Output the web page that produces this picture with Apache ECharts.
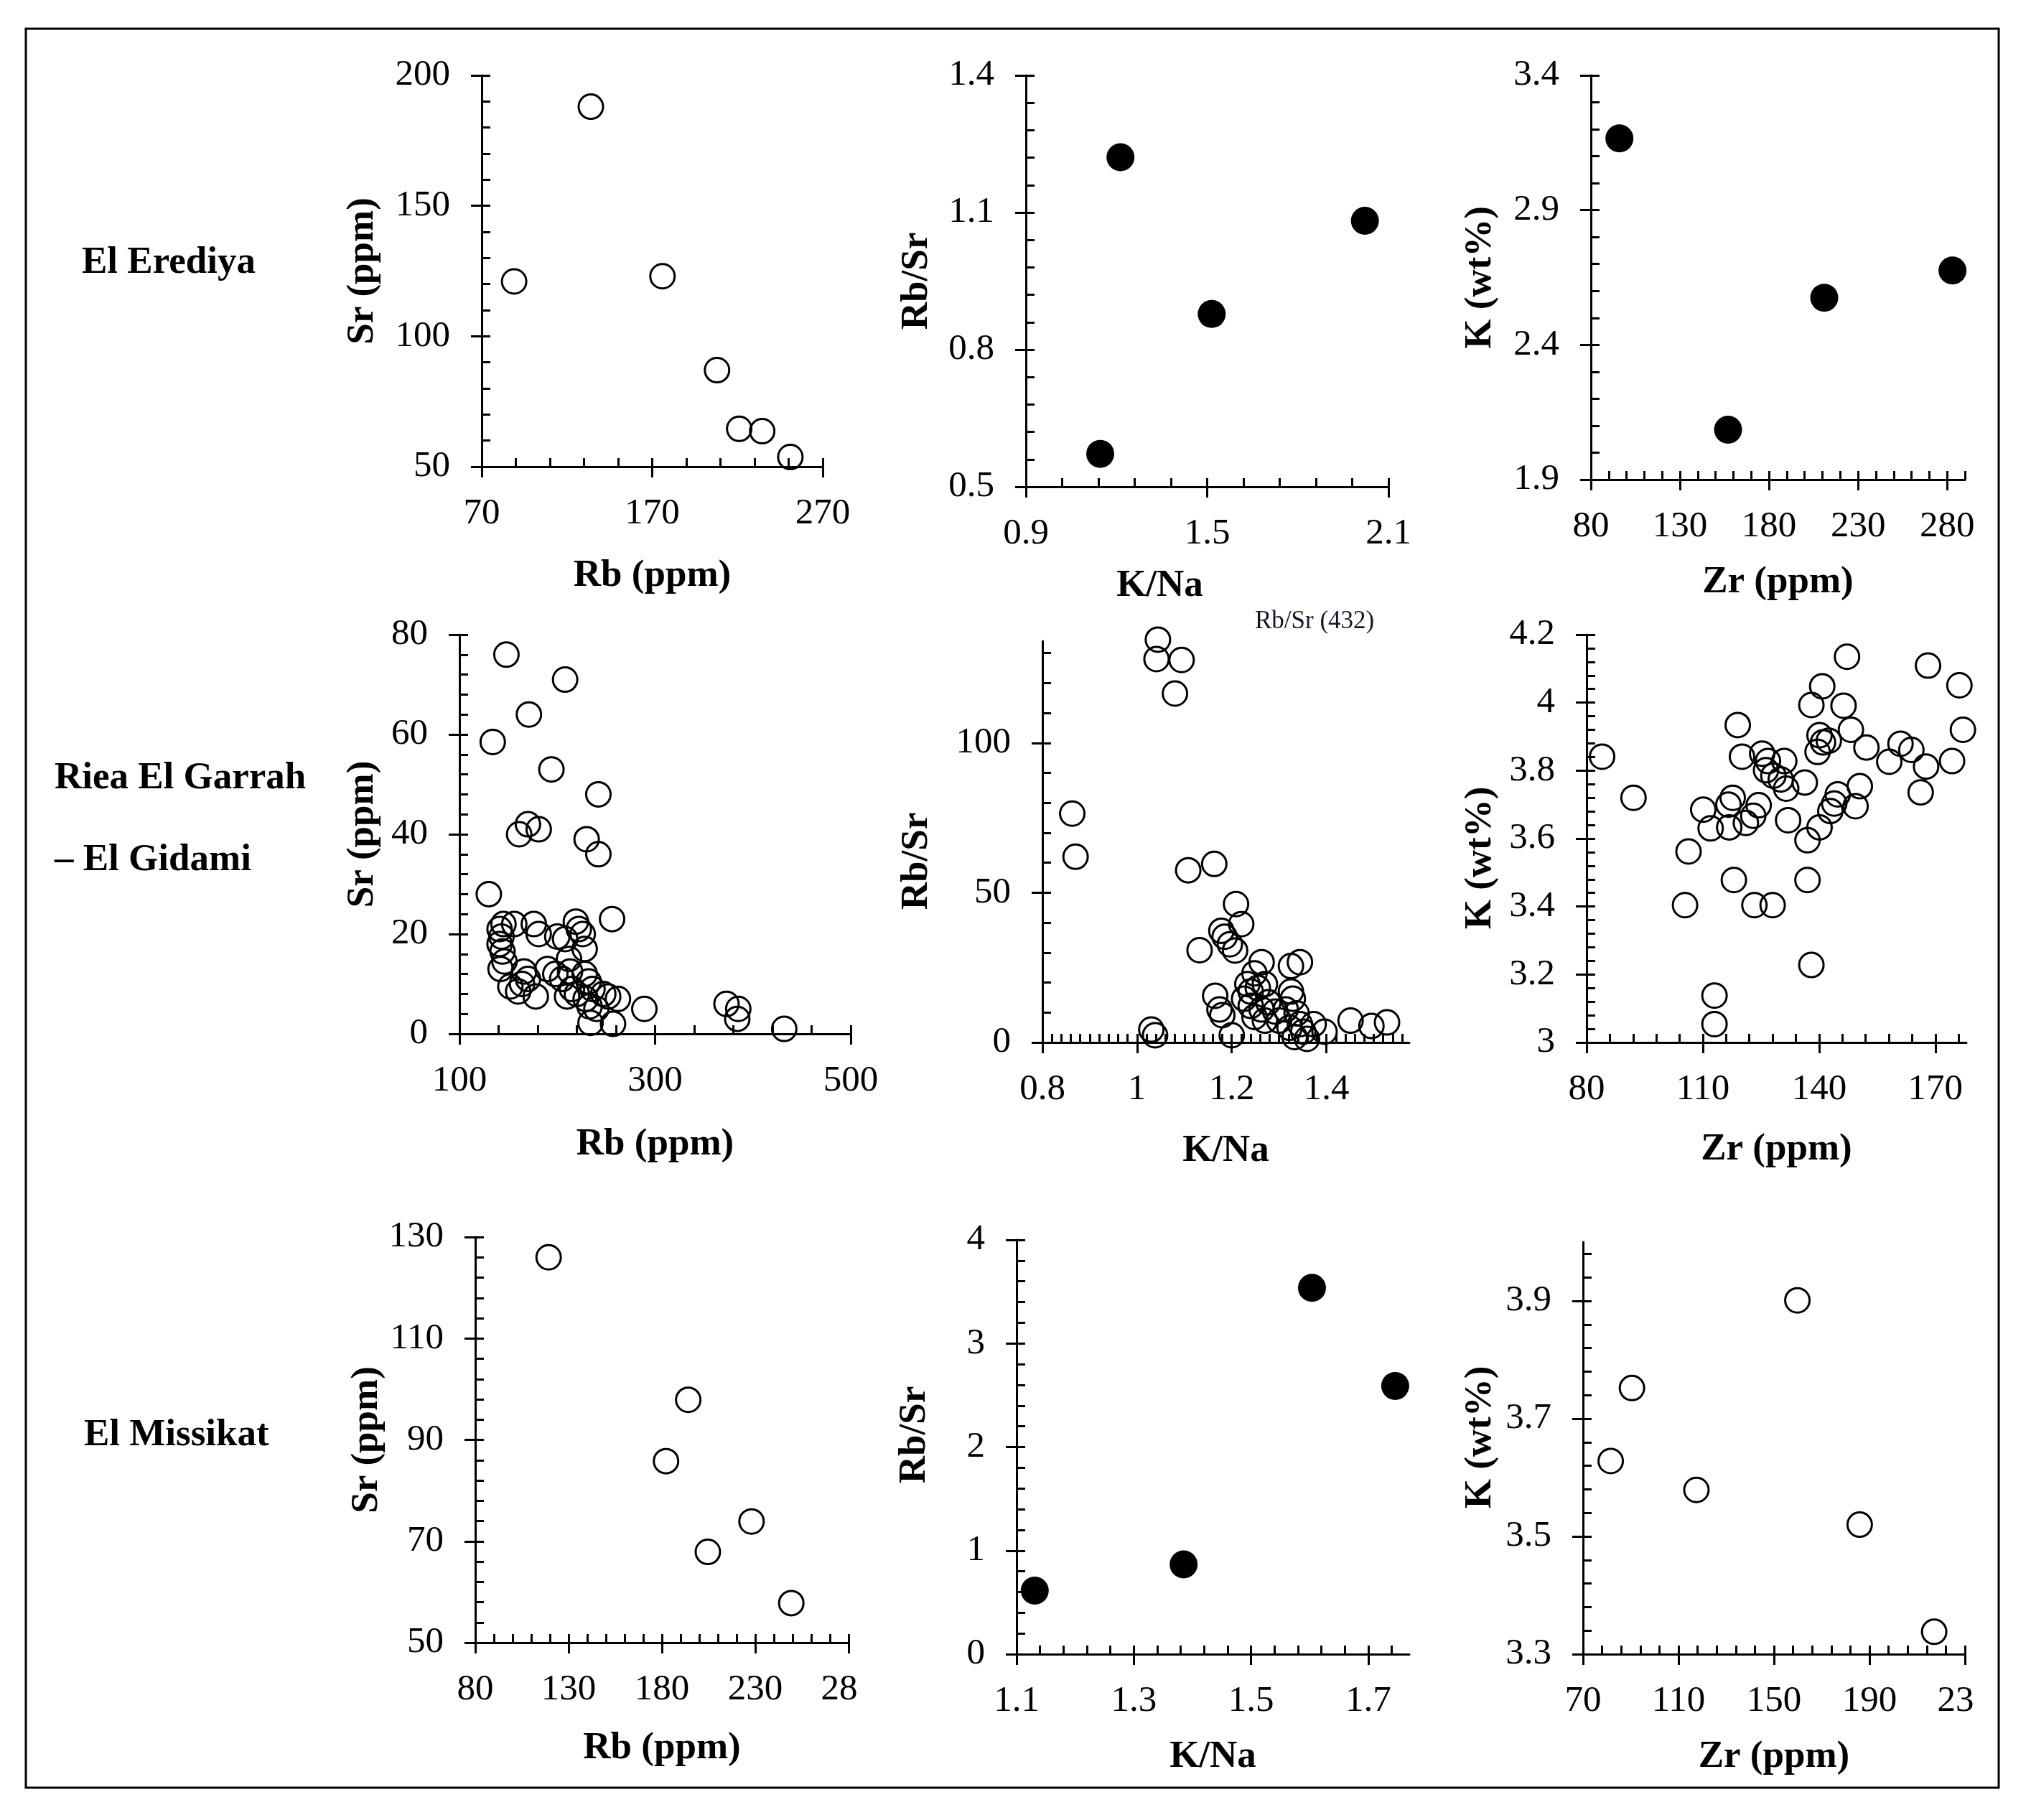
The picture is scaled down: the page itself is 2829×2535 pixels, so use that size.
<!DOCTYPE html>
<html><head><meta charset="utf-8">
<script src="https://cdn.jsdelivr.net/npm/echarts@6/dist/echarts.min.js"></script>
<style>html,body{margin:0;padding:0;background:#fff}#c{width:2829px;height:2535px}</style>
</head><body><div id="c"></div><script>
// ---------------- DATA ----------------
// El Erediya
const erediyaRb   = [134, 89, 176, 208, 221, 234.5, 251];
const erediyaSr   = [188, 121, 123, 87, 64.5, 63.6, 53.7];
const erediyaKNa  = [1.146, 1.213, 1.515, 2.022];
const erediyaRbSr = [0.572, 1.221, 0.878, 1.082];
const erediyaZr   = [96, 157, 211, 283];
const erediyaK    = [3.166, 2.085, 2.575, 2.676];
// Riea El Garrah - El Gidami
const garrahRb = [148,208,171,134,194,242,161,170,181,230,242,130,256,
  145,141,143,141,144,146,142,156,176,181,152,160,166,170,178,164,200,208,190,198,205,
  219,222,226,228,212,213,215,210,220,228,232,236,229,233,234,240,247,252,262,257,289,373,385,384,432];
const garrahSr = [76,71,64,58.5,53,48,40,42,41,39,36,28,23,
  22,21,19.5,18,16.5,14.5,13,22,22,20,9.5,8.5,12.5,11,7.5,10,19.5,19,13,12,11,
  22.5,21,20,17,15,12.5,9,7.5,8,12,10.5,9,7,5.5,2.2,5,8,7.5,7,2,5,6,5,3,1];
const garrahKNa = [1.044,1.041,1.094,1.080,0.863,0.870,1.108,1.163,1.132,1.209,1.220,1.178,1.185,1.196,1.207,
  1.165,1.174,1.180,1.200,1.030,1.038,
  1.263,1.248,1.233,1.240,1.255,1.270,1.226,1.240,1.263,1.277,1.248,1.270,1.292,1.300,
  1.325,1.344,1.325,1.329,1.314,1.337,1.322,1.344,1.351,1.359,1.333,1.373,1.396,1.451,1.495,1.528];
const garrahRbSr = [134.5,128,127.7,116.5,76.4,62,57.5,59.6,30.8,46.2,39.5,37.3,35.3,32.8,30.7,
  15.6,11,9.1,2.4,4.3,2.4,
  26.8,23.1,19.5,17,18.2,19.5,14.6,12.2,11,13.4,8.5,7.3,10.3,7.3,
  25.5,26.8,17,14.6,11,9.7,4.9,6.1,3.6,1.2,1.8,6.1,3.6,7.3,5.5,6.7];
const garrahZr = [84,92.1,110.1,112,106.3,105.4,113,113,119,120.1,117.7,116.6,116.8,121.1,118,123.3,128,
  123,124.4,125.3,126.8,126.3,128.2,131,130.1,131.5,132,136.3,138,140.8,146.3,140.1,141,142.5,139.6,
  148.2,147.2,152.2,137,140.1,142.9,144.8,143.9,149.4,150.5,137,138,158.1,161,163.8,166.2,167.6,168.1,
  174.3,176.2,177.1];
const garrahK = [3.841,3.72,3.685,3.63,3.562,3.404,3.138,3.054,3.934,3.841,3.72,3.7,3.633,3.646,3.478,3.404,3.404,
  3.667,3.698,3.85,3.828,3.801,3.785,3.828,3.774,3.747,3.654,3.765,3.993,4.048,3.991,3.904,3.883,3.888,3.855,
  3.92,4.135,3.868,3.595,3.633,3.681,3.73,3.703,3.695,3.754,3.478,3.228,3.826,3.879,3.861,3.736,3.812,4.109,
  3.828,4.051,3.92];
// El Missikat
const missikatRb   = [119.3, 194.1, 182.2, 228, 204.6, 249.3];
const missikatSr   = [126, 97.9, 85.8, 73.9, 67.9, 57.8];
const missikatKNa  = [1.131, 1.385, 1.604, 1.746];
const missikatRbSr = [0.613, 0.866, 3.537, 2.59];
const missikatZr   = [81.6, 90.5, 117.5, 159.8, 185.9, 217.1];
const missikatK    = [3.628, 3.752, 3.579, 3.901, 3.52, 3.338];

// tick values and tick labels
const p1XTicks = [70,170,270];            const p1XLabels = ['70','170','270'];
const p1YTicks = [50,100,150,200];        const p1YLabels = ['50','100','150','200'];
const p2XTicks = [0.9,1.5,2.1];           const p2XLabels = ['0.9','1.5','2.1'];
const p2YTicks = [0.5,0.8,1.1,1.4];       const p2YLabels = ['0.5','0.8','1.1','1.4'];
const p3XTicks = [80,130,180,230,280];    const p3XLabels = ['80','130','180','230','280'];
const p3YTicks = [1.9,2.4,2.9,3.4];       const p3YLabels = ['1.9','2.4','2.9','3.4'];
const p4XTicks = [100,300,500];           const p4XLabels = ['100','300','500'];
const p4YTicks = [0,20,40,60,80];         const p4YLabels = ['0','20','40','60','80'];
const p5XTicks = [0.8,1,1.2,1.4];         const p5XLabels = ['0.8','1','1.2','1.4'];
const p5YTicks = [0,50,100];              const p5YLabels = ['0','50','100'];
const p6XTicks = [80,110,140,170];        const p6XLabels = ['80','110','140','170'];
const p6YTicks = [3,3.2,3.4,3.6,3.8,4,4.2]; const p6YLabels = ['3','3.2','3.4','3.6','3.8','4','4.2'];
const p7XTicks = [80,130,180,230,280];    const p7XLabels = ['80','130','180','230','28'];
const p7YTicks = [50,70,90,110,130];      const p7YLabels = ['50','70','90','110','130'];
const p8XTicks = [1.1,1.3,1.5,1.7];       const p8XLabels = ['1.1','1.3','1.5','1.7'];
const p8YTicks = [0,1,2,3,4];             const p8YLabels = ['0','1','2','3','4'];
const p9XTicks = [70,110,150,190,230];    const p9XLabels = ['70','110','150','190','23'];
const p9YTicks = [3.3,3.5,3.7,3.9];       const p9YLabels = ['3.3','3.5','3.7','3.9'];

// ---------------- LAYOUT ----------------
const FONT = '"Liberation Serif", "Times New Roman", serif';
const panels = [
  {box:[671,105,1146,650],  filled:false, xs:erediyaRb,  ys:erediyaSr,
   x:{min:70,max:270,ticks:p1XTicks,labels:p1XLabels,minor:20,name:'Rb (ppm)',gap:126},
   y:{min:50,max:200,ticks:p1YTicks,labels:p1YLabels,minor:10,name:'Sr (ppm)',gap:139}},
  {box:[1429,105,1934,678], filled:true, xs:erediyaKNa, ys:erediyaRbSr,
   x:{min:0.9,max:2.1,ticks:p2XTicks,labels:p2XLabels,minor:0.12,name:'K/Na',gap:112,pad:[0,132,0,0]},
   y:{min:0.5,max:1.4,ticks:p2YTicks,labels:p2YLabels,minor:0.06,name:'Rb/Sr',gap:125}},
  {box:[2216,105,2737,668], filled:true, xs:erediyaZr, ys:erediyaK,
   x:{min:80,max:290,ticks:p3XTicks,labels:p3XLabels,minor:10,name:'Zr (ppm)',gap:117},
   y:{min:1.9,max:3.4,ticks:p3YTicks,labels:p3YLabels,minor:0.1,name:'K (wt%)',gap:127}},
  {box:[640,884,1185,1440], filled:false, xs:garrahRb, ys:garrahSr,
   x:{min:100,max:500,ticks:p4XTicks,labels:p4XLabels,minor:40,name:'Rb (ppm)',gap:128},
   y:{min:0,max:80,ticks:p4YTicks,labels:p4YLabels,minor:4,name:'Sr (ppm)',gap:108}},
  {box:[1452,893,1963,1452], filled:false, xs:garrahKNa, ys:garrahRbSr,
   x:{min:0.8,max:1.575,ticks:p5XTicks,labels:p5XLabels,minor:0.02,name:'K/Na',gap:125},
   y:{min:0,max:134,ticks:p5YTicks,labels:p5YLabels,minor:10,name:'Rb/Sr',gap:148,pad:[0,54,0,0]}},
  {box:[2210,884,2739,1452], filled:false, xs:garrahZr, ys:garrahK,
   x:{min:80,max:178,ticks:p6XTicks,labels:p6XLabels,minor:6,name:'Zr (ppm)',gap:123},
   y:{min:3,max:4.2,ticks:p6YTicks,labels:p6YLabels,minor:0.04,name:'K (wt%)',gap:121,pad:[0,54,0,0]}},
  {box:[662,1723,1182,2288], filled:false, xs:missikatRb, ys:missikatSr,
   x:{min:80,max:280,ticks:p7XTicks,labels:p7XLabels,minor:10,name:'Rb (ppm)',gap:121,clipLast:true},
   y:{min:50,max:130,ticks:p7YTicks,labels:p7YLabels,minor:4,name:'Sr (ppm)',gap:124}},
  {box:[1416,1727,1963,2304], filled:true, xs:missikatKNa, ys:missikatRbSr,
   x:{min:1.1,max:1.77,ticks:p8XTicks,labels:p8XLabels,minor:0.04,name:'K/Na',gap:117},
   y:{min:0,max:4,ticks:p8YTicks,labels:p8YLabels,minor:0.2,name:'Rb/Sr',gap:115,pad:[0,0,0,34]}},
  {box:[2205,1730,2737,2304], filled:false, xs:missikatZr, ys:missikatK,
   x:{min:70,max:230,ticks:p9XTicks,labels:p9XLabels,minor:8,name:'Zr (ppm)',gap:117,clipLast:true},
   y:{min:3.3,max:4.0,ticks:p9YTicks,labels:p9YLabels,minor:0.04,name:'K (wt%)',gap:116,pad:[0,0,0,30]}}
];

function steps(min, max, step){
  const out=[];
  for(let k=0;;k++){ const v=+(min+k*step).toFixed(6); if(v>max+1e-9) break; out.push(v); }
  return out;
}

function primaryAxis(dim, a, i){
  return {
    type:'value', gridIndex:i, position: dim==='x'?'bottom':'left', min:a.min, max:a.max,
    axisLine:{show:true, onZero:false, lineStyle:{color:'#000', width:3}},
    axisTick:{show:true, inside:false, length:15, customValues:a.ticks, lineStyle:{color:'#000', width:3}},
    minorTick:{show:false}, splitLine:{show:false},
    axisLabel:{show:true, customValues:a.ticks, margin: dim==='x'?40:44, color:'#000',
      fontFamily:FONT, fontSize:51,
      formatter:function(v){
        const k=a.ticks.findIndex(t=>Math.abs(t-v)<1e-9);
        const s = k>=0 ? a.labels[k] : String(v);
        return (a.clipLast && k===a.ticks.length-1) ? '{cl|'+s+'}' : s;
      },
      rich:{cl:{fontFamily:FONT, fontSize:51, color:'#000', padding:[0,26,0,0]}}},
    name:a.name, nameLocation:'middle', nameGap:a.gap, nameMoveOverlap:false,
    nameTextStyle:{fontFamily:FONT, fontWeight:'bold', fontSize:53, color:'#000', padding:a.pad||0}
  };
}
function minorAxis(dim, a, i){
  return {
    type:'value', gridIndex:i, position: dim==='x'?'bottom':'left', min:a.min, max:a.max,
    axisLine:{show:false, onZero:false}, axisLabel:{show:false}, splitLine:{show:false},
    axisTick:{show:true, inside:true, length:12, customValues:steps(a.min,a.max,a.minor),
      lineStyle:{color:'#000', width:3}}
  };
}

const grids=[], xAxes=[], yAxes=[], series=[];
panels.forEach((p,i)=>{
  grids.push({left:p.box[0], top:p.box[1], width:p.box[2]-p.box[0], height:p.box[3]-p.box[1],
    containLabel:false, outerBoundsMode:'none'});
  xAxes.push(primaryAxis('x',p.x,i)); xAxes.push(minorAxis('x',p.x,i));
  yAxes.push(primaryAxis('y',p.y,i)); yAxes.push(minorAxis('y',p.y,i));
  series.push({
    type:'scatter', xAxisIndex:2*i, yAxisIndex:2*i, clip:false, silent:true,
    data:p.xs.map((v,k)=>[v,p.ys[k]]), symbol:'circle',
    symbolSize:p.filled?39:34,
    itemStyle:p.filled?{color:'#000', opacity:1}
                      :{color:'rgba(0,0,0,0)', borderColor:'#000', borderWidth:3, opacity:1}
  });
});

const rowFont = 'bold 53px ' + FONT;
const option = {
  animation:false, backgroundColor:'#fff',
  grid:grids, xAxis:xAxes, yAxis:yAxes, series:series,
  graphic:[
    {type:'rect', shape:{x:36,y:40,width:2748,height:2450}, style:{fill:'none', stroke:'#000', lineWidth:3}, silent:true, z:-10},
    {type:'text', x:114, y:366,  style:{text:'El Erediya', font:rowFont, fill:'#000', verticalAlign:'middle'}},
    {type:'text', x:76,  y:1084, style:{text:'Riea El Garrah', font:rowFont, fill:'#000', verticalAlign:'middle'}},
    {type:'text', x:76,  y:1198, style:{text:'– El Gidami', font:rowFont, fill:'#000', verticalAlign:'middle'}},
    {type:'text', x:117, y:1999, style:{text:'El Missikat', font:rowFont, fill:'#000', verticalAlign:'middle'}},
    {type:'text', x:1748, y:866, style:{text:'Rb/Sr (432)', font:'35px '+FONT, fill:'#15152a', verticalAlign:'middle'}}
  ]
};
const chart = echarts.init(document.getElementById('c'), null, {renderer:'canvas'});
chart.setOption(option);
</script></body></html>
